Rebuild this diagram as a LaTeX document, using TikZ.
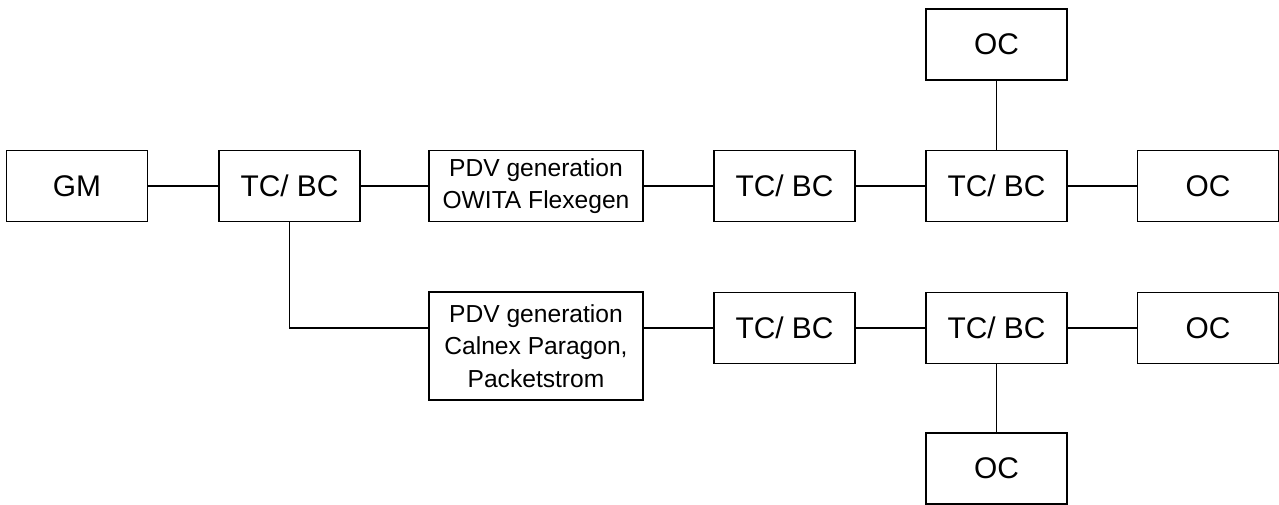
\documentclass[tikz,border=0pt]{standalone}
\usepackage{fontspec}
\setmainfont{Liberation Sans}
\begin{document}
\begin{tikzpicture}[x=0.2mm, y=-0.2mm, line width=0.8pt,
  unit box/.style={draw, minimum width=2.82cm, minimum height=1.42cm,
    inner sep=+0pt, font=\fontsize{17}{20}\selectfont},
  pdv box/.style={unit box, minimum width=4.28cm, align=center,
    font=\fontsize{14}{18.5}\selectfont}]
\useasboundingbox (0,0) rectangle (1279,504);
% upper chain
\node[unit box]  (gm)   at (77,186)    {GM};
\node[unit box]  (tc1)  at (289.5,186) {TC/ BC};
\node[pdv box]   (pdv1) at (536,186)   {PDV generation\\OWITA Flexegen};
\node[unit box]  (tc2)  at (784.5,186) {TC/ BC};
\node[unit box]  (tc3)  at (996.5,186) {TC/ BC};
\node[unit box]  (oc1)  at (1208,186)  {OC};
\node[unit box]  (oc2)  at (996.5,44.5) {OC};
% lower chain
\node[pdv box, minimum height=2.16cm] (pdv2) at (536,346)
  {PDV generation\\Calnex Paragon,\\Packetstrom};
\node[unit box]  (tc4)  at (784.5,328) {TC/ BC};
\node[unit box]  (tc5)  at (996.5,328) {TC/ BC};
\node[unit box]  (oc3)  at (1208,328)  {OC};
\node[unit box]  (oc4)  at (996.5,468.5) {OC};
\draw (gm) -- (tc1) -- (pdv1) -- (tc2) -- (tc3) -- (oc1);
\draw (tc3) -- (oc2);
\draw (tc1.south) |- (tc4.west -| pdv2.west);
\draw (tc4.west -| pdv2.east) -- (tc4) -- (tc5) -- (oc3);
\draw (tc5) -- (oc4);
\end{tikzpicture}
\end{document}
